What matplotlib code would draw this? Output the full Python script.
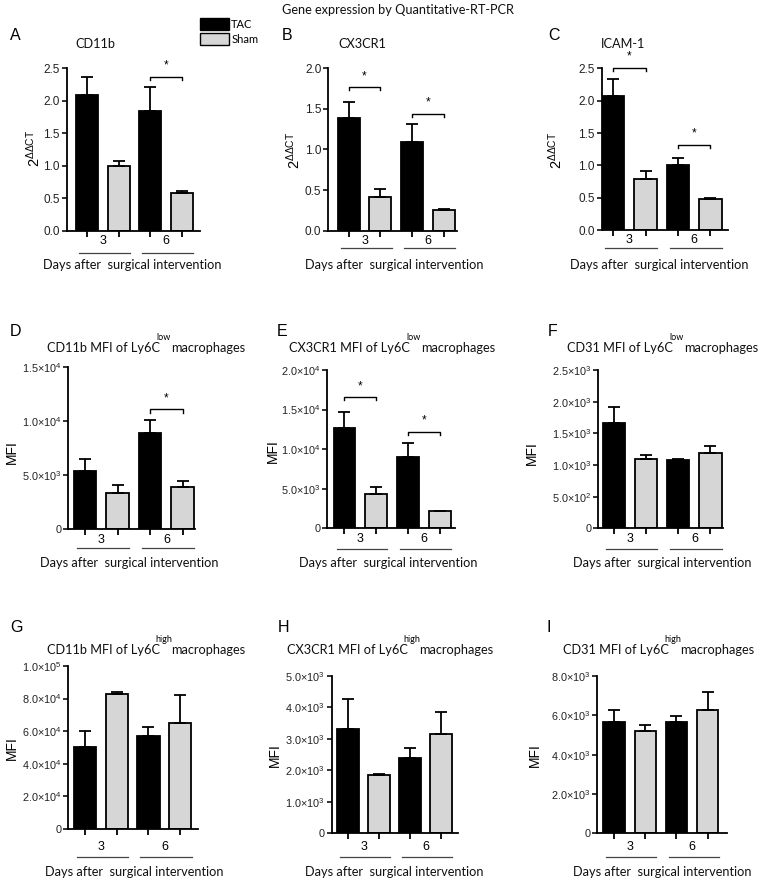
import numpy as np
import matplotlib
matplotlib.use("Agg")
import matplotlib.pyplot as plt
from matplotlib.transforms import blended_transform_factory

W, H = 767, 881

plt.rcParams['font.family'] = ['Liberation Sans', 'DejaVu Sans']
plt.rcParams['mathtext.fontset'] = 'custom'
plt.rcParams['mathtext.rm'] = 'Liberation Sans'
plt.rcParams['mathtext.it'] = 'Liberation Sans'
plt.rcParams['mathtext.bf'] = 'Liberation Sans'

days = ["3", "6"]
groups = ["TAC", "Sham"]
xlabel = "Days after  surgical intervention"

# A - CD11b qRT-PCR
a_tac = [2.09, 1.85]
a_tac_err = [0.27, 0.36]
a_sham = [0.99, 0.575]
a_sham_err = [0.09, 0.04]
# B - CX3CR1 qRT-PCR
b_tac = [1.39, 1.09]
b_tac_err = [0.195, 0.23]
b_sham = [0.42, 0.25]
b_sham_err = [0.09, 0.02]
# C - ICAM-1 qRT-PCR
c_tac = [2.08, 1.015]
c_tac_err = [0.25, 0.105]
c_sham = [0.79, 0.48]
c_sham_err = [0.12, 0.02]
# D - CD11b MFI Ly6C low
d_tac = [5430, 8950]
d_tac_err = [1050, 1170]
d_sham = [3330, 3920]
d_sham_err = [770, 550]
# E - CX3CR1 MFI Ly6C low
e_tac = [12630, 9050]
e_tac_err = [2060, 1770]
e_sham = [4340, 2150]
e_sham_err = [840, 80]
# F - CD31 MFI Ly6C low
f_tac = [1658, 1079]
f_tac_err = [258, 21]
f_sham = [1095, 1189]
f_sham_err = [58, 106]
# G - CD11b MFI Ly6C high
g_tac = [50300, 57260]
g_tac_err = [9800, 5520]
g_sham = [82600, 65240]
g_sham_err = [1400, 16960]
# H - CX3CR1 MFI Ly6C high
h_tac = [3316, 2383]
h_tac_err = [964, 318]
h_sham = [1854, 3157]
h_sham_err = [42, 688]
# I - CD31 MFI Ly6C high
i_tac = [5644, 5661]
i_tac_err = [627, 322]
i_sham = [5203, 6254]
i_sham_err = [289, 932]

# significance brackets: (day index, height)
a_sig = [(1, 2.37)]
b_sig = [(0, 1.77), (1, 1.44)]
c_sig = [(0, 2.51), (1, 1.32)]
d_sig = [(1, 11100)]
e_sig = [(0, 16550), (1, 12210)]


def px(x, y):
    return x / W, 1 - y / H


def sci(v, pos=None):
    if v == 0:
        return "0"
    e = int(np.floor(np.log10(abs(v)) + 1e-9))
    m = v / 10 ** e
    return "%.1f\u00d710$^{%d}$" % (m, e)


fig = plt.figure(figsize=(W / 100, H / 100), dpi=100)

panels = [
    dict(letter="A", letter_xy=(10, 35), title="CD11b", title_xy=(95, 44),
         box=(66.7, 68.3, 200, 230.7), xlim=(-0.63, 3.56), yt=np.arange(0, 2.51, 0.5),
         tac=a_tac, tac_err=a_tac_err, sham=a_sham, sham_err=a_sham_err, sig=a_sig,
         ylab=r"$2^{\Delta\Delta \mathrm{CT}}$", ylab_xy=(34, 148), lab_dy=10, line_dy=22, xl_xy=(132, 265)),
    dict(letter="B", letter_xy=(282, 35), title="CX3CR1", title_xy=(362, 44),
         box=(328.3, 68.3, 457, 230.7), xlim=(-0.64, 3.41), yt=np.arange(0, 2.01, 0.5),
         tac=b_tac, tac_err=b_tac_err, sham=b_sham, sham_err=b_sham_err, sig=b_sig,
         ylab=r"$2^{\Delta\Delta \mathrm{CT}}$", ylab_xy=(294, 150), lab_dy=10, line_dy=17, xl_xy=(394, 265)),
    dict(letter="C", letter_xy=(548, 35), title="ICAM-1", title_xy=(623, 44),
         box=(601.7, 68.3, 728, 230.3), xlim=(-0.35, 3.54), yt=np.arange(0, 2.51, 0.5),
         tac=c_tac, tac_err=c_tac_err, sham=c_sham, sham_err=c_sham_err, sig=c_sig,
         ylab=r"$2^{\Delta\Delta \mathrm{CT}}$", ylab_xy=(556, 150), lab_dy=10, line_dy=18, xl_xy=(659, 265)),
    dict(letter="D", letter_xy=(10, 332), title=("CD11b MFI of Ly6C", "low"), title_xy=(160, 348),
         box=(68.3, 367.3, 195, 529.3), xlim=(-0.52, 3.38), yt=np.arange(0, 15001, 5000),
         tac=d_tac, tac_err=d_tac_err, sham=d_sham, sham_err=d_sham_err, sig=d_sig,
         ylab="MFI", ylab_xy=(12, 452), lab_dy=11, line_dy=19, xl_xy=(129, 563)),
    dict(letter="E", letter_xy=(277, 332), title=("CX3CR1 MFI of Ly6C", "low"), title_xy=(410, 348),
         box=(327.3, 370, 455, 528.3), xlim=(-0.54, 3.47), yt=np.arange(0, 20001, 5000),
         tac=e_tac, tac_err=e_tac_err, sham=e_sham, sham_err=e_sham_err, sig=e_sig,
         ylab="MFI", ylab_xy=(273, 451), lab_dy=11, line_dy=21, xl_xy=(388, 563)),
    dict(letter="F", letter_xy=(548, 332), title=("CD31 MFI of Ly6C", "low"), title_xy=(673, 348),
         box=(598.3, 370, 723, 528.3), xlim=(-0.49, 3.39), yt=np.arange(0, 2501, 500),
         tac=f_tac, tac_err=f_tac_err, sham=f_sham, sham_err=f_sham_err, sig=[],
         ylab="MFI", ylab_xy=(532, 453), lab_dy=11, line_dy=21, xl_xy=(662, 563)),
    dict(letter="G", letter_xy=(10, 628), title=("CD11b MFI of Ly6C", "high"), title_xy=(160, 650),
         box=(68.3, 666, 198, 829), xlim=(-0.51, 3.55), yt=np.arange(0, 100001, 20000),
         tac=g_tac, tac_err=g_tac_err, sham=g_sham, sham_err=g_sham_err, sig=[],
         ylab="MFI", ylab_xy=(12, 748), lab_dy=18, line_dy=28, xl_xy=(134, 872)),
    dict(letter="H", letter_xy=(278, 628), title=("CX3CR1 MFI of Ly6C", "high"), title_xy=(408, 650),
         box=(331.7, 676, 458, 833.3), xlim=(-0.53, 3.55), yt=np.arange(0, 5001, 1000),
         tac=h_tac, tac_err=h_tac_err, sham=h_sham, sham_err=h_sham_err, sig=[],
         ylab="MFI", ylab_xy=(275, 755), lab_dy=14, line_dy=24, xl_xy=(394, 872)),
    dict(letter="I", letter_xy=(547, 628), title=("CD31 MFI of Ly6C", "high"), title_xy=(669, 650),
         box=(597.3, 676, 727, 833.3), xlim=(-0.54, 3.62), yt=np.arange(0, 8001, 2000),
         tac=i_tac, tac_err=i_tac_err, sham=i_sham, sham_err=i_sham_err, sig=[],
         ylab="MFI", ylab_xy=(535, 755), lab_dy=14, line_dy=24, xl_xy=(662, 872)),
]

title_font = dict(family=['Lato', 'DejaVu Sans'], size=9.2, color="#111111")
bar_w = 0.69
lw = 1.3

for p in panels:
    l, t, r, b = p["box"]
    ax = fig.add_axes([l / W, 1 - b / H, (r - l) / W, (b - t) / H])
    tac_x = np.array([0, 2])
    sham_x = np.array([1, 3])
    zeros = np.zeros(2)
    ax.bar(tac_x, p["tac"], bar_w, color="black", edgecolor="black", linewidth=lw,
           yerr=[zeros, p["tac_err"]], error_kw=dict(ecolor="black", elinewidth=lw, capsize=4, capthick=lw),
           label=groups[0])
    ax.bar(sham_x, p["sham"], bar_w, color="#d6d6d6", edgecolor="black", linewidth=lw,
           yerr=[zeros, p["sham_err"]], error_kw=dict(ecolor="black", elinewidth=lw, capsize=4, capthick=lw),
           label=groups[1])
    ax.set_xlim(*p["xlim"])
    yt = p["yt"]
    ax.set_ylim(0, yt[-1])
    ax.set_yticks(yt)
    if p["ylab"] == "MFI":
        ax.set_yticklabels([sci(v) for v in yt])
        ysize = 7.8
    else:
        ax.set_yticklabels(["%.1f" % v for v in yt])
        ysize = 8.5
    ax.set_xticks([0, 1, 2, 3])
    ax.set_xticklabels([])
    for s in ["top", "right"]:
        ax.spines[s].set_visible(False)
    for s in ["left", "bottom"]:
        ax.spines[s].set_linewidth(lw)
    ax.tick_params(axis="y", length=3.5, width=lw, labelsize=ysize, pad=1.5, colors="#222222")
    ax.tick_params(axis="x", length=4, width=lw)

    tr = blended_transform_factory(ax.transData, fig.transFigure)
    for i, d in enumerate(days):
        ax.text(0.5 + 2 * i, 1 - (b + p["lab_dy"]) / H, d, transform=tr, ha="center", va="center",
                fontsize=9)
        yline = 1 - (b + p["line_dy"]) / H
        ax.plot([2 * i - 0.25, 2 * i + 1.35], [yline, yline], transform=tr, color="#444444",
                lw=0.9, clip_on=False)

    # significance brackets
    tick = yt[-1] * 0.02
    for di, yv in p["sig"]:
        x0, x1 = 2 * di, 2 * di + 1
        ax.plot([x0, x0, x1, x1], [yv - tick, yv, yv, yv - tick], color="black", lw=1.0, clip_on=False)
        ax.text((x0 + x1) / 2, yv + yt[-1] * 0.03, "*", ha="center", va="bottom", fontsize=8.5)

    fig.text(*px(*p["xl_xy"]), xlabel, ha="center", va="center", **title_font)
    ysz = 10 if p["ylab"] == "MFI" else 10.5
    fig.text(*px(*p["ylab_xy"]), p["ylab"], rotation=90, ha="center", va="center", fontsize=ysz)
    fig.text(*px(*p["letter_xy"]), p["letter"], ha="left", va="center", fontsize=11.5)

    if isinstance(p["title"], tuple):
        main, sup = p["title"]
        tx, ty = p["title_xy"]
        fig.text(*px(tx, ty), main, ha="right", va="center", **title_font)
        fig.text(*px(tx + 4, ty - 11), sup, ha="center", va="center",
                 family=['Lato', 'DejaVu Sans'], size=6.5)
        fig.text(*px(tx + 11, ty), "macrophages", ha="left", va="center", **title_font)
    else:
        fig.text(*px(*p["title_xy"]), p["title"], ha="center", va="center", **title_font)

    if p["letter"] == "A":
        handles, labels = ax.get_legend_handles_labels()

fig.text(*px(398, 10), "Gene expression by Quantitative-RT-PCR", ha="center", va="center",
         **title_font)

leg = fig.legend(handles, labels, loc="upper left", bbox_to_anchor=px(200, 18),
                 frameon=False, handlelength=2.6, handleheight=1.3,
                 handletextpad=0.2, labelspacing=0.25, borderpad=0, borderaxespad=0,
                 prop=dict(family=['Lato', 'DejaVu Sans'], size=8))
for h in leg.legend_handles:
    h.set_edgecolor("black")
    h.set_linewidth(1.0)

fig.savefig("out.png", dpi=100)
